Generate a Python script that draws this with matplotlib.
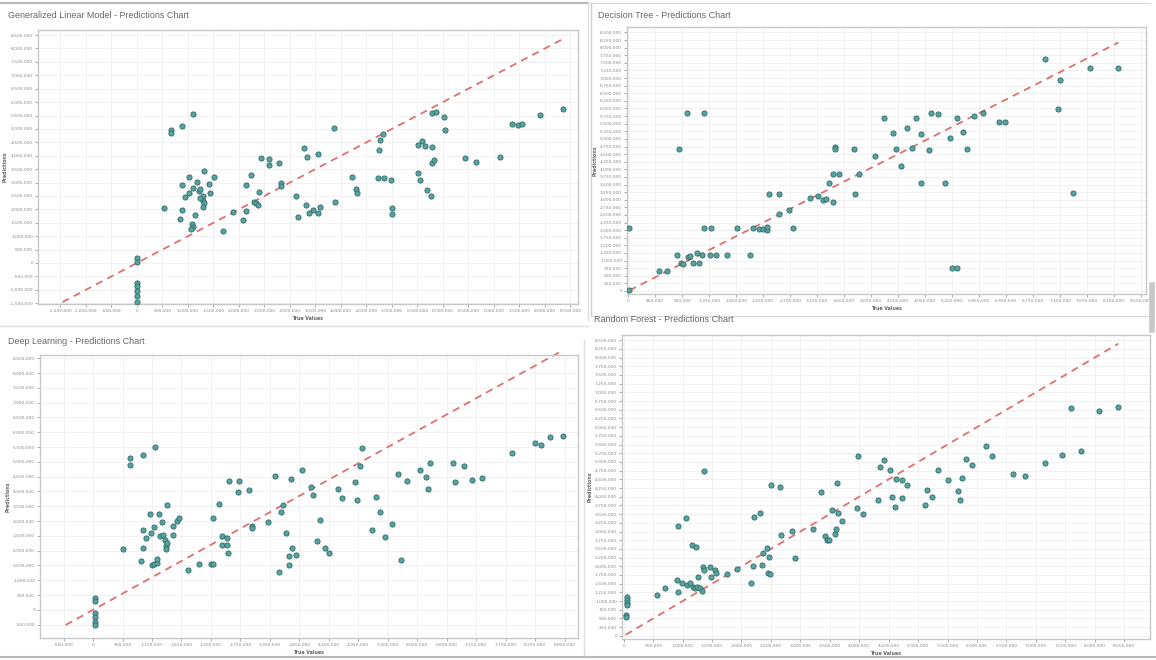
import matplotlib
matplotlib.use("Agg")
import matplotlib.pyplot as plt
import numpy as np
from matplotlib.lines import Line2D
from matplotlib.ticker import FixedLocator, FuncFormatter

# ---------------- data (values in millions) ----------------
glm_true = [0.0, 0.0, 0.0, 0.0, 0.0, 0.0, 0.0,
            0.67, 0.67, 0.88, 1.10,
            0.53, 0.88, 0.84, 1.02, 0.88, 0.94, 1.02, 1.10, 1.18, 1.22, 1.24, 1.31, 1.41, 1.51,
            1.43, 1.29, 1.29, 1.31, 1.29, 1.24, 1.14, 1.08, 1.10, 1.06, 1.69, 1.88, 2.08, 2.14,
            2.14, 2.24, 2.29, 2.33, 2.37, 2.39, 2.43, 2.59, 2.59, 2.78, 2.82, 2.82, 3.12,
            3.27, 3.33, 3.16, 3.31, 3.37, 3.45, 3.55, 3.59, 3.55, 3.86, 3.88, 4.22, 4.29, 4.31,
            4.76, 4.82, 4.75, 4.73, 4.84, 4.98, 5.00, 5.00, 5.51, 5.59, 5.65, 5.51, 5.55, 5.69,
            5.76, 5.78, 5.78, 5.86, 6.04, 6.02, 5.78, 5.82, 6.43, 6.65, 7.12, 7.35, 7.47, 7.55,
            7.90, 8.35]
glm_pred = [0.20, 0.05, -0.75, -0.86, -1.05, -1.25, -1.46,
            4.96, 4.85, 5.11, 5.56,
            2.05, 1.98, 1.64, 3.21, 2.91, 2.46, 2.61, 2.80, 3.02, 2.69, 2.76, 3.43, 2.95, 3.21,
            2.61, 2.50, 2.31, 2.24, 2.09, 2.43, 1.79, 1.46, 1.34, 1.27, 1.19, 1.90, 1.60, 1.94,
            2.91, 3.28, 2.28, 2.24, 2.16, 2.65, 3.92, 3.88, 3.66, 3.73, 2.99, 2.87, 2.50,
            4.29, 3.96, 1.72, 2.16, 1.87, 1.98, 1.87, 2.09, 4.07, 5.04, 2.28, 3.21, 2.76, 2.61,
            4.59, 4.81, 4.22, 3.17, 3.17, 3.10, 2.05, 1.83, 4.40, 4.55, 4.37, 3.36, 3.10, 2.72,
            2.50, 4.33, 5.60, 5.63, 4.96, 5.45, 3.73, 3.84, 3.92, 3.77, 3.96, 5.19, 5.15, 5.19,
            5.52, 5.75]

dt_true = [0.98, 1.27, 0.85, 3.45, 3.45, 3.77, 4.12, 0.02, 0.02, 0.52, 0.65, 0.82, 0.88,
           0.92, 1.00, 1.03, 1.08, 1.15, 1.18, 1.23, 1.27, 1.38, 1.37, 1.47, 1.65, 1.82, 2.03,
           2.08, 2.18, 2.25, 2.32, 2.32, 2.35, 2.52, 2.52, 2.68, 2.75, 3.03, 3.17, 3.25, 3.30,
           3.35, 3.42, 3.42, 3.52, 3.78, 3.85,
           4.27, 4.42, 4.47, 4.55, 4.65, 4.73, 4.80, 4.88, 4.88, 5.02, 5.05, 5.17, 5.28, 5.37,
           5.48, 5.58, 5.65, 5.77, 5.92, 6.18, 6.28, 6.95, 7.17, 7.20, 7.42, 7.70, 8.17, 5.40,
           5.48]
dt_pred = [5.86, 5.86, 4.67, 4.74, 4.67, 4.67, 4.44, 2.07, 0.03, 0.66, 0.66, 1.18, 0.92,
           0.89, 1.12, 1.15, 0.92, 1.25, 0.92, 1.18, 2.07, 2.07, 1.18, 1.18, 1.18, 2.07, 1.18,
           2.07, 2.04, 2.04, 2.01, 2.11, 3.19, 3.19, 2.53, 2.66, 2.07, 3.06, 3.13, 2.99, 3.03,
           3.55, 2.93, 3.85, 3.85, 3.19, 3.85,
           5.69, 5.20, 4.67, 4.11, 5.36, 4.70, 5.69, 3.55, 5.16, 4.64, 5.86, 5.82, 3.55, 5.03,
           5.69, 5.23, 4.67, 5.76, 5.86, 5.56, 5.56, 7.63, 5.99, 6.94, 3.22, 7.34, 7.34, 0.76,
           0.76]

dl_true = [0.69, 0.69, 0.93, 1.16, 0.04, 0.04, 0.04, 0.04, 0.04, 0.04, 0.56, 0.90, 0.93,
           0.93, 0.99, 1.06, 1.08, 1.14, 1.10, 1.14, 1.19, 1.19, 1.23, 1.29, 1.25, 1.31, 1.34,
           1.36, 1.36, 1.38, 1.38, 1.49, 1.49, 1.57, 1.60, 1.77, 1.98, 2.20, 2.24, 2.24, 2.35,
           2.41, 2.41, 2.50, 2.50, 2.52, 2.54, 2.72, 2.71, 2.91, 2.97, 2.97, 3.26, 3.40, 3.51,
           3.54, 3.60, 3.47, 3.66, 3.71, 3.66, 3.69, 3.79,
           3.90, 4.07, 4.10, 4.18, 4.24, 4.33, 4.40, 4.57, 4.65, 4.89, 4.92, 4.98, 5.02, 5.21,
           5.28, 5.35, 5.45, 5.58, 5.69, 5.75, 5.86, 6.10, 6.21, 6.29, 6.25, 6.72, 6.75, 6.92,
           7.07, 7.26, 7.82, 8.25, 8.36, 8.53, 8.77]
dl_pred = [5.14, 4.90, 5.24, 5.51, 0.41, 0.30, -0.10, -0.24, -0.41, -0.51, 2.06, 1.66, 2.70,
           2.09, 2.43, 3.24, 2.60, 2.80, 1.52, 1.55, 1.59, 1.72, 3.24, 2.97, 2.50, 2.53, 2.36,
           2.16, 2.06, 2.26, 3.55, 2.84, 2.53, 3.01, 3.11, 1.35, 1.55, 1.55, 1.55, 3.11, 3.58,
           2.50, 2.20, 2.43, 2.20, 1.93, 4.36, 4.36, 3.99, 4.05, 2.84, 2.77, 2.97, 4.53, 3.31,
           3.55, 2.60, 1.28, 1.82, 2.09, 1.52, 4.43, 1.86,
           4.73, 4.16, 3.89, 2.33, 3.04, 2.09, 1.93, 4.09, 3.78, 4.32, 3.72, 4.86, 5.47, 2.70,
           3.82, 3.31, 2.47, 2.91, 4.59, 1.69, 4.36, 4.73, 4.49, 4.97, 4.09, 4.97, 4.32, 4.86,
           4.39, 4.46, 5.30, 5.64, 5.57, 5.84, 5.88]

rf_true = [1.36, 3.98, 0.05, 0.05, 0.05, 0.05, 0.03, 0.03, 0.56, 0.70, 0.92, 1.05, 0.90,
           0.92, 0.99, 1.07, 1.12, 1.17, 1.21, 1.24, 1.29, 1.33, 1.26, 1.16, 1.22, 1.34, 1.36,
           1.46, 1.48, 1.55, 1.56, 1.75, 1.92, 2.16, 2.21, 2.19, 2.31, 2.36, 2.35, 2.43, 2.45,
           2.48, 2.47, 2.50, 2.65, 2.67, 2.86, 2.91, 3.21, 3.35, 3.42, 3.45, 3.49, 3.54, 3.59,
           3.61, 3.62, 3.64, 3.71, 3.96, 4.06, 4.32,
           4.35, 4.42, 4.52, 4.63, 4.73, 4.81, 4.56, 4.61, 4.73, 5.12, 5.15, 5.24, 5.34, 5.51,
           5.68, 5.71, 5.75, 5.82, 5.92, 6.16, 6.26, 6.62, 6.82, 7.16, 7.45, 7.59, 7.76, 8.08,
           8.40]
rf_pred = [4.74, 5.17, 1.12, 1.03, 0.95, 0.89, 0.60, 0.55, 1.18, 1.38, 3.16, 3.39, 1.61,
           1.26, 1.52, 1.47, 1.52, 1.41, 1.38, 1.41, 1.38, 1.29, 1.70, 2.61, 2.56, 1.98, 1.90,
           1.98, 1.70, 1.90, 1.81, 1.78, 1.93, 1.52, 3.42, 2.01, 3.53, 2.39, 2.04, 2.53, 1.81,
           1.78, 2.27, 4.34, 4.28, 2.90, 3.02, 2.24, 3.07, 4.14, 2.87, 2.76, 2.76, 3.62, 2.93,
           3.07, 4.40, 3.53, 3.30, 3.68, 3.51, 3.91,
           4.86, 5.06, 4.77, 4.51, 4.48, 4.34, 3.99, 3.71, 3.97, 3.76, 4.20, 3.99, 4.77, 4.48,
           4.17, 3.91, 4.54, 5.09, 4.91, 5.46, 5.17, 4.66, 4.60, 4.97, 5.20, 6.55, 5.32, 6.47,
           6.58]

# tick values (millions)
glm_xticks = np.arange(-1.5, 8.51, 0.5)
glm_yticks = np.arange(-1.5, 8.51, 0.5)
dt_xticks = np.arange(0, 8.6, 0.45)
dt_yticks = np.arange(0, 8.51, 0.25)
dl_xticks = np.arange(-0.55, 8.9, 0.55)
dl_yticks = np.arange(-0.5, 8.51, 0.5)
rf_xticks = np.arange(0, 8.51, 0.5)
rf_yticks = np.arange(0, 8.51, 0.25)

titles = ["Generalized Linear Model - Predictions Chart", "Decision Tree - Predictions Chart",
          "Deep Learning - Predictions Chart", "Random Forest - Predictions Chart"]

# ---------------- drawing ----------------
W, H = 1156, 660
fig = plt.figure(figsize=(W / 100, H / 100), dpi=100)
fig.patch.set_facecolor("white")


def rect(l, t, r, b):
    return [l / W, 1 - b / H, (r - l) / W, (b - t) / H]


def fline(x0, y0, x1, y1, color="#b8b8b8", lw=1.5):
    fig.add_artist(Line2D([x0 / W, x1 / W], [1 - y0 / H, 1 - y1 / H],
                          transform=fig.transFigure, color=color, lw=lw))


def fmt(v, pos):
    val = int(round(v * 1e6))
    return f"{val:,}"


def panel(box, title, tpos, tx, ty, xt, yt, xlim, ylim):
    ax = fig.add_axes(rect(*box))
    ax.set_facecolor("white")
    lo = min(min(tx), min(ty))
    hi = max(max(tx), max(ty))
    ax.plot([lo, hi], [lo, hi], ls=(0, (4, 3)), color="#e07070", lw=1.3, zorder=2,
            clip_on=False)
    ax.scatter(tx, ty, s=14, c="#58a2a0", edgecolors="#2e6c6a", linewidths=0.6, zorder=3)
    ax.set_xlim(*xlim)
    ax.set_ylim(*ylim)
    ax.xaxis.set_major_locator(FixedLocator(xt))
    ax.yaxis.set_major_locator(FixedLocator(yt))
    ax.xaxis.set_major_formatter(FuncFormatter(fmt))
    ax.yaxis.set_major_formatter(FuncFormatter(fmt))
    ax.tick_params(labelsize=3.2, colors="#8a8a8a", length=2, width=0.5, pad=1.5)
    ax.grid(True, color="#efefef", lw=0.6)
    ax.set_axisbelow(True)
    for s in ax.spines.values():
        s.set_color("#c8c8c8")
        s.set_linewidth(1.0)
    ax.set_xlabel("True Values", fontsize=3.4, color="#666666", labelpad=2, fontweight="bold")
    ax.set_ylabel("Predictions", fontsize=3.4, color="#666666", labelpad=1.5,
                  fontweight="bold")
    fig.text(tpos[0] / W, 1 - tpos[1] / H, title, fontsize=6.5, color="#666666",
             family="Liberation Sans", va="center", ha="left")
    return ax


# panel frames
fline(0, 3, 588, 3)
fline(588, 3, 588, 320, color="#dddddd", lw=1)
fline(591, 3, 1150, 3, color="#dddddd", lw=1)
fline(591, 3, 591, 316, color="#cfcfcf", lw=1)
fline(0, 326, 588, 326, color="#dddddd", lw=1)
fline(591, 316, 1150, 316, color="#dddddd", lw=1)
fline(584, 340, 584, 657, color="#dddddd", lw=1)
fline(0, 657, 1156, 657)
fline(1152, 285, 1152, 330, color="#c8c8c8", lw=4)

panel((38, 30, 578, 304), titles[0], (8, 15), glm_true, glm_pred, glm_xticks, glm_yticks,
      (-1.94, 8.65), (-1.53, 8.69))
panel((627, 27, 1146, 294), titles[1], (598, 15), dt_true, dt_pred, dt_xticks, dt_yticks,
      (-0.02, 8.63), (-0.1, 8.68))
panel((40, 355, 578, 638), titles[2], (8, 342), dl_true, dl_pred, dl_xticks, dl_yticks,
      (-0.99, 9.05), (-0.95, 8.61))
panel((622, 335, 1150, 639), titles[3], (594, 320), rf_true, rf_pred, rf_xticks, rf_yticks,
      (-0.03, 8.94), (-0.09, 8.65))

fig.savefig("out.png", dpi=100, facecolor="white")
